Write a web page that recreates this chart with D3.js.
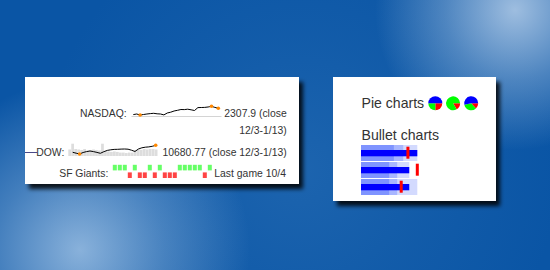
<!DOCTYPE html>
<html><head><meta charset="utf-8">
<script src="https://cdn.jsdelivr.net/npm/d3@7"></script>
<style>body{margin:0;background:#0b56a6;overflow:hidden}svg{display:block}</style>
</head><body>
<script>
// ---------- data ----------
const nasdaqValues = [2235.5,2242.5,2231.0,2236.7,2242.5,2247.0,2250.5,2244.8,2242.5,2232.1,2254.0,2263.2,2277.0,2285.0,2294.2,2293.1,2297.7,2290.8,2282.7,2316.1,2317.2,2318.4,2323.0,2331.0,2318.4,2307.9];
const dowValues = [10400.8,10364.8,10332.8,10392.8,10428.8,10452.8,10428.8,10396.8,10360.8,10424.8,10476.8,10500.8,10516.8,10520.8,10528.8,10532.8,10524.8,10484.8,10432.8,10532.8,10580.8,10604.8,10616.8,10640.8,10680.77];
const dowVolumes = [53,100,57,53,49,57,45,49,53,49,45,100,41,37,33,37,33,28,28,24,28,28,49,53,49,57,53,57,57,53];
const giantsResults = [1,1,1,-1,1,-1,-1,1,-1,1,-1,-1,-1,1,1,1,1,1,-1,1];
const pieValues = [[1,1,2],[1,5],[20,50,80]];
const pieColors = ["#f00","#0f0","#00f"];
// target, performance, ranges...
const bulletData = [[10,12,12,9,7],[14,12,12,9,7],[10,12,14,9,7]];
const rangeColors = ["#d3dafe","#a8b6ff","#7f94ff"];
const leftLabels = ["NASDAQ:","DOW:","SF Giants:"];
const rightTexts = ["2307.9 (close","12/3-1/13)","10680.77 (close 12/3-1/13)","Last game 10/4"];
const headings = ["Pie charts","Bullet charts"];

// ---------- svg ----------
const W = 550, H = 270;
const svg = d3.select("body").append("svg").attr("width", W).attr("height", H);
const defs = svg.append("defs");

function radial(id, cx, cy, r, color, op) {
  const g = defs.append("radialGradient").attr("id", id).attr("gradientUnits", "userSpaceOnUse")
    .attr("cx", cx).attr("cy", cy).attr("r", r);
  g.append("stop").attr("offset", 0).attr("stop-color", color).attr("stop-opacity", op);
  g.append("stop").attr("offset", 0.5).attr("stop-color", color).attr("stop-opacity", op * 0.45);
  g.append("stop").attr("offset", 1).attr("stop-color", color).attr("stop-opacity", 0);
}
radial("spotBL", 80, 250, 170, "#a8c8e8", 0.8);
radial("spotTR", 515, 10, 140, "#b8d0ea", 0.85);
radial("spotMid", 300, 170, 260, "#3f80c0", 0.35);

const sh = defs.append("filter").attr("id", "shadow").attr("x", "-10%").attr("y", "-10%").attr("width", "130%").attr("height", "140%");
sh.append("feDropShadow").attr("dx", 4).attr("dy", 5).attr("stdDeviation", 2.2)
  .attr("flood-color", "#000").attr("flood-opacity", 0.85);

svg.append("rect").attr("width", W).attr("height", H).attr("fill", "#0a55a5");
svg.append("rect").attr("width", W).attr("height", H).attr("fill", "url(#spotMid)");
svg.append("rect").attr("width", W).attr("height", H).attr("fill", "url(#spotBL)");
svg.append("rect").attr("width", W).attr("height", H).attr("fill", "url(#spotTR)");

// panels
svg.append("rect").attr("x", 25).attr("y", 77).attr("width", 274).attr("height", 107)
  .attr("fill", "#fff").attr("filter", "url(#shadow)");
svg.append("rect").attr("x", 333).attr("y", 77).attr("width", 163).attr("height", 124)
  .attr("fill", "#fff").attr("filter", "url(#shadow)");

const font = "'Liberation Sans', Arial, sans-serif";
const txtColor = "#333";

// ---------- left panel text ----------
const labelPos = [[126.7, 116.8], [64.3, 155.6], [108.3, 177.2]];
svg.selectAll("text.lbl").data(leftLabels).join("text").attr("class", "lbl")
  .attr("x", (d, i) => labelPos[i][0]).attr("y", (d, i) => labelPos[i][1])
  .attr("text-anchor", "end").attr("font-family", font).attr("font-size", 10.4).attr("fill", txtColor)
  .text(d => d);
const rightPos = [[286.7, 116.8, "end"], [286.7, 134.4, "end"], [286.7, 155.6, "end"], [214.3, 177.2, "start"]];
svg.selectAll("text.rt").data(rightTexts).join("text").attr("class", "rt")
  .attr("x", (d, i) => rightPos[i][0]).attr("y", (d, i) => rightPos[i][1])
  .attr("text-anchor", (d, i) => rightPos[i][2]).attr("font-family", font).attr("font-size", 10.4).attr("fill", txtColor)
  .text(d => d);

// stray line before DOW
svg.append("line").attr("x1", 25).attr("x2", 37.5).attr("y1", 152.5).attr("y2", 152.5)
  .attr("stroke", "#4a4a88").attr("stroke-width", 1);

// ---------- NASDAQ sparkline ----------
const nx = d3.scaleLinear().domain([0, nasdaqValues.length - 1]).range([133.3, 218.3]);
const ny = d3.scaleLinear().domain(d3.extent(nasdaqValues)).range([115, 106.3]);
svg.append("line").attr("x1", 131.5).attr("x2", 221.5).attr("y1", 116.5).attr("y2", 116.5)
  .attr("stroke", "#d4d4d4").attr("stroke-width", 1.2);
svg.append("path").datum(nasdaqValues)
  .attr("d", d3.line().x((d, i) => nx(i)).y(d => ny(d)))
  .attr("fill", "none").attr("stroke", "#000").attr("stroke-width", 1);
function spots(values, xs, ys) {
  const mn = d3.minIndex(values), mx = d3.maxIndex(values), last = values.length - 1;
  const idx = Array.from(new Set([mn, mx, last]));
  svg.append("g").selectAll("circle").data(idx).join("circle")
    .attr("cx", i => xs(i)).attr("cy", i => ys(values[i])).attr("r", 1.8).attr("fill", "#f80");
}
spots(nasdaqValues, nx, ny);

// ---------- DOW composite ----------
const bx = d3.scaleBand().domain(d3.range(dowVolumes.length)).range([68.3, 157.5]).paddingInner(0.08);
const by = d3.scaleLinear().domain([0, d3.max(dowVolumes)]).range([156, 143.7]);
svg.append("g").selectAll("rect").data(dowVolumes).join("rect")
  .attr("x", (d, i) => bx(i)).attr("width", bx.bandwidth())
  .attr("y", d => by(d)).attr("height", d => by(0) - by(d)).attr("fill", "#ddd");
const dx = d3.scaleLinear().domain([0, dowValues.length - 1]).range([72.7, 155.7]);
const dy = d3.scaleLinear().domain(d3.extent(dowValues)).range([154, 145.3]);
svg.append("path").datum(dowValues)
  .attr("d", d3.line().x((d, i) => dx(i)).y(d => dy(d)))
  .attr("fill", "none").attr("stroke", "#000").attr("stroke-width", 1);
spots(dowValues, dx, dy);

// ---------- SF Giants tristate ----------
const tx = d3.scaleBand().domain(d3.range(giantsResults.length)).range([112.3, 212.3]).paddingInner(0.2).paddingOuter(0.1);
const ty = d3.scaleLinear().domain([-1, 1]).range([178, 164.8]);
svg.append("g").selectAll("rect").data(giantsResults).join("rect")
  .attr("x", (d, i) => tx(i)).attr("width", tx.bandwidth())
  .attr("y", d => d > 0 ? ty(d) : ty(0) + 1)
  .attr("height", d => d > 0 ? ty(0) - 1 - ty(d) : ty(d) - ty(0) - 1)
  .attr("fill", d => d > 0 ? "#6f6" : "#f44");

// ---------- right panel ----------
svg.selectAll("text.hd").data(headings).join("text").attr("class", "hd")
  .attr("x", 361.5).attr("y", (d, i) => [108.3, 140.2][i])
  .attr("font-family", font).attr("font-size", 14.1).attr("fill", txtColor).text(d => d);

const pieCx = [435.3, 453.1, 471.2];
const pie = d3.pie().sort(null).startAngle(Math.PI / 2).endAngle(Math.PI / 2 + 2 * Math.PI);
const arc = d3.arc().innerRadius(0).outerRadius(7);
pieValues.forEach((vals, k) => {
  svg.append("g").attr("transform", `translate(${pieCx[k]},103.3)`)
    .selectAll("path").data(pie(vals)).join("path")
    .attr("d", arc).attr("fill", (d, i) => pieColors[i % pieColors.length]);
});

bulletData.forEach((row, k) => {
  const [target, perf, ...ranges] = row;
  const top = 145 + k * 17;
  const x = d3.scaleLinear().domain([0, d3.max(row)]).range([361, 417.3]);
  const g = svg.append("g");
  const sorted = ranges.slice().sort((a, b) => b - a);
  g.selectAll("rect.r").data(sorted).join("rect").attr("class", "r")
    .attr("x", x(0)).attr("y", top).attr("width", d => x(d) - x(0)).attr("height", 16)
    .attr("fill", (d, i) => rangeColors[i]);
  g.append("rect").attr("x", x(0)).attr("y", top + 5).attr("width", x(perf) - x(0)).attr("height", 6.3).attr("fill", "#00f");
  g.append("rect").attr("x", Math.min(x(target) - 1.5, 418.8 - 3)).attr("y", top + 1.7).attr("width", 3).attr("height", 12).attr("fill", "#f00");
});
</script>
</body></html>
